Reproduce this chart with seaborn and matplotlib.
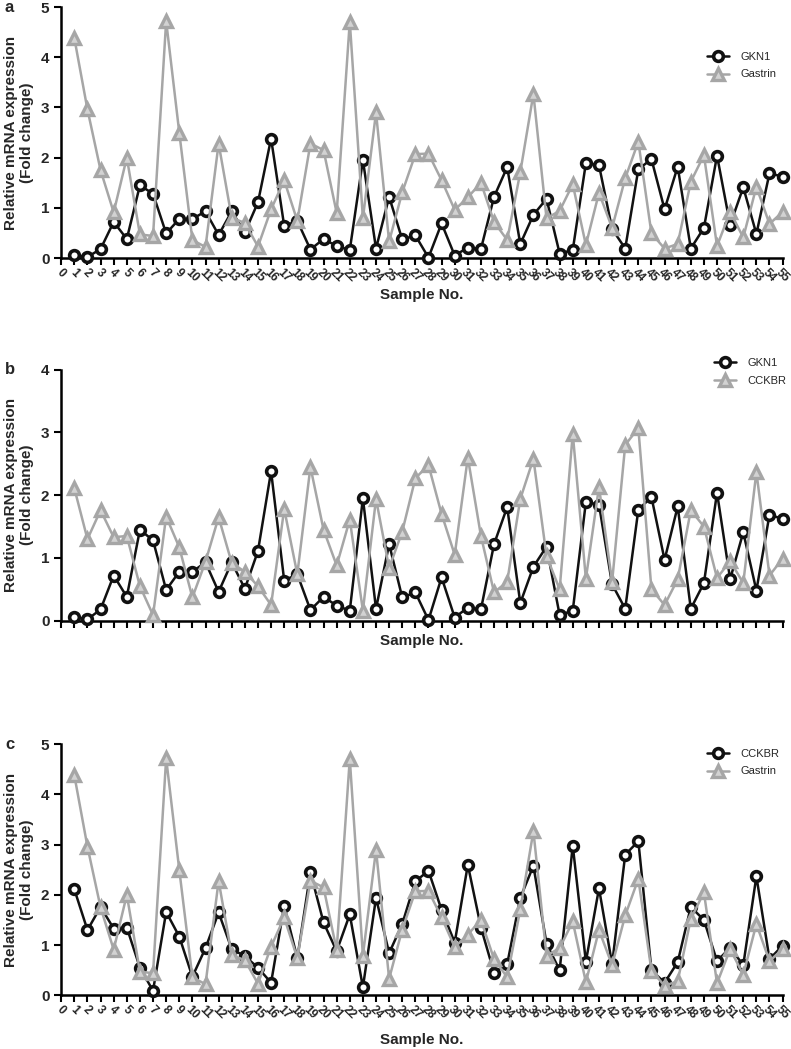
import pandas as pd
import numpy as np
import matplotlib
matplotlib.use("Agg")
import matplotlib.pyplot as plt
import seaborn as sns

sns.set_style("ticks")
plt.rcParams['font.family'] = ['Liberation Sans', 'DejaVu Sans']

samples = list(range(1, 56))

gkn1 = [0.06, 0.02, 0.18, 0.72, 0.38, 1.45, 1.28, 0.49, 0.78, 0.78,
        0.93, 0.46, 0.93, 0.51, 1.11, 2.38, 0.64, 0.74, 0.17, 0.38,
        0.24, 0.16, 1.95, 0.19, 1.22, 0.37, 0.45, 0.01, 0.69, 0.05,
        0.21, 0.18, 1.22, 1.81, 0.28, 0.86, 1.18, 0.09, 0.16, 1.89,
        1.85, 0.58, 0.19, 1.77, 1.97, 0.97, 1.82, 0.19, 0.60, 2.04,
        0.66, 1.41, 0.48, 1.69, 1.62]

gastrin = [4.38, 2.96, 1.75, 0.91, 2.00, 0.47, 0.44, 4.72, 2.50, 0.36,
           0.22, 2.28, 0.80, 0.70, 0.23, 0.97, 1.55, 0.74, 2.28, 2.15,
           0.90, 4.71, 0.79, 2.90, 0.33, 1.31, 2.07, 2.08, 1.55, 0.96,
           1.21, 1.50, 0.72, 0.36, 1.71, 3.27, 0.79, 0.94, 1.47, 0.26,
           1.30, 0.60, 1.59, 2.32, 0.49, 0.19, 0.28, 1.52, 2.05, 0.24,
           0.92, 0.41, 1.42, 0.68, 0.92]

cckbr = [2.11, 1.30, 1.76, 1.33, 1.35, 0.55, 0.09, 1.66, 1.17, 0.37,
         0.94, 1.65, 0.92, 0.78, 0.55, 0.25, 1.78, 0.74, 2.45, 1.45,
         0.88, 1.61, 0.16, 1.94, 0.84, 1.42, 2.27, 2.48, 1.70, 1.05,
         2.60, 1.35, 0.45, 0.62, 1.94, 2.58, 1.03, 0.50, 2.98, 0.67,
         2.13, 0.62, 2.80, 3.07, 0.50, 0.25, 0.66, 1.76, 1.50, 0.68,
         0.95, 0.60, 2.37, 0.72, 0.99]

# letter, series 1, series 2, y max, x tick labels?, legend y, legend x, xlabel pad
panels = [
    ("a", "GKN1", gkn1, "Gastrin", gastrin, 5, True, 0.767, 0.895, 3),
    ("b", "GKN1", gkn1, "CCKBR", cckbr, 4, False, 0.991, 0.905, 1),
    ("c", "CCKBR", cckbr, "Gastrin", gastrin, 5, True, 0.927, 0.895, 8),
]

black = "#111111"
grey = "#a6a6a6"

fig = plt.figure(figsize=(7.91, 10.49), dpi=100)
bottoms = [0.7540, 0.4083, 0.0512]

for (letter, n1, v1, n2, v2, ytop, show_xt, leg_y, leg_x, xpad), b in zip(panels, bottoms):
    ax = fig.add_axes([0.0774, b, 0.912, 0.2393])
    df = pd.DataFrame({"sample": samples, n1: v1, n2: v2})
    sns.lineplot(data=df, x="sample", y=n1, ax=ax, color=black, lw=1.8,
                 marker="o", markersize=7, markerfacecolor="white",
                 markeredgecolor=black, markeredgewidth=2.6,
                 label=n1, clip_on=False, zorder=3)
    sns.lineplot(data=df, x="sample", y=n2, ax=ax, color=grey, lw=1.8,
                 marker="^", markersize=8, markerfacecolor="#d2d2d2",
                 markeredgecolor=grey, markeredgewidth=2.4,
                 label=n2, clip_on=False, zorder=4)
    ax.set_xlim(0, 55)
    ax.set_ylim(0, ytop)
    ax.set_yticks(range(0, ytop + 1))
    ax.set_xticks(range(0, 56))
    for s in ["top", "right"]:
        ax.spines[s].set_visible(False)
    for s in ["left", "bottom"]:
        ax.spines[s].set_linewidth(1.8)
        ax.spines[s].set_color("black")
    ax.tick_params(axis="both", length=5, width=1.5, color="black")
    ax.set_yticklabels([str(t) for t in range(0, ytop + 1)],
                       fontsize=11, fontweight="bold")
    if show_xt:
        ax.set_xticklabels([str(t) for t in range(0, 56)], fontsize=8.6,
                           fontweight="bold", rotation=-45, ha="center",
                           va="top")
        ax.tick_params(axis="x", pad=1)
    else:
        ax.set_xticklabels([])
    ax.set_xlabel("Sample No.", fontsize=11, fontweight="bold", labelpad=xpad)
    ax.set_ylabel("Relative mRNA expression\n(Fold change)", fontsize=11,
                  fontweight="bold", labelpad=5)
    leg = ax.legend(loc="center left", bbox_to_anchor=(leg_x, leg_y),
                    frameon=False, fontsize=8, handlelength=2.0,
                    handletextpad=1.0, labelspacing=0.7, borderpad=0,
                    borderaxespad=0)
    for h in leg.legend_handles:
        h.set_clip_on(False)
    ax.text(-0.078, 1.0, letter, transform=ax.transAxes, fontsize=12,
            fontweight="bold", va="center", ha="left")

fig.savefig("out.png", dpi=100)
